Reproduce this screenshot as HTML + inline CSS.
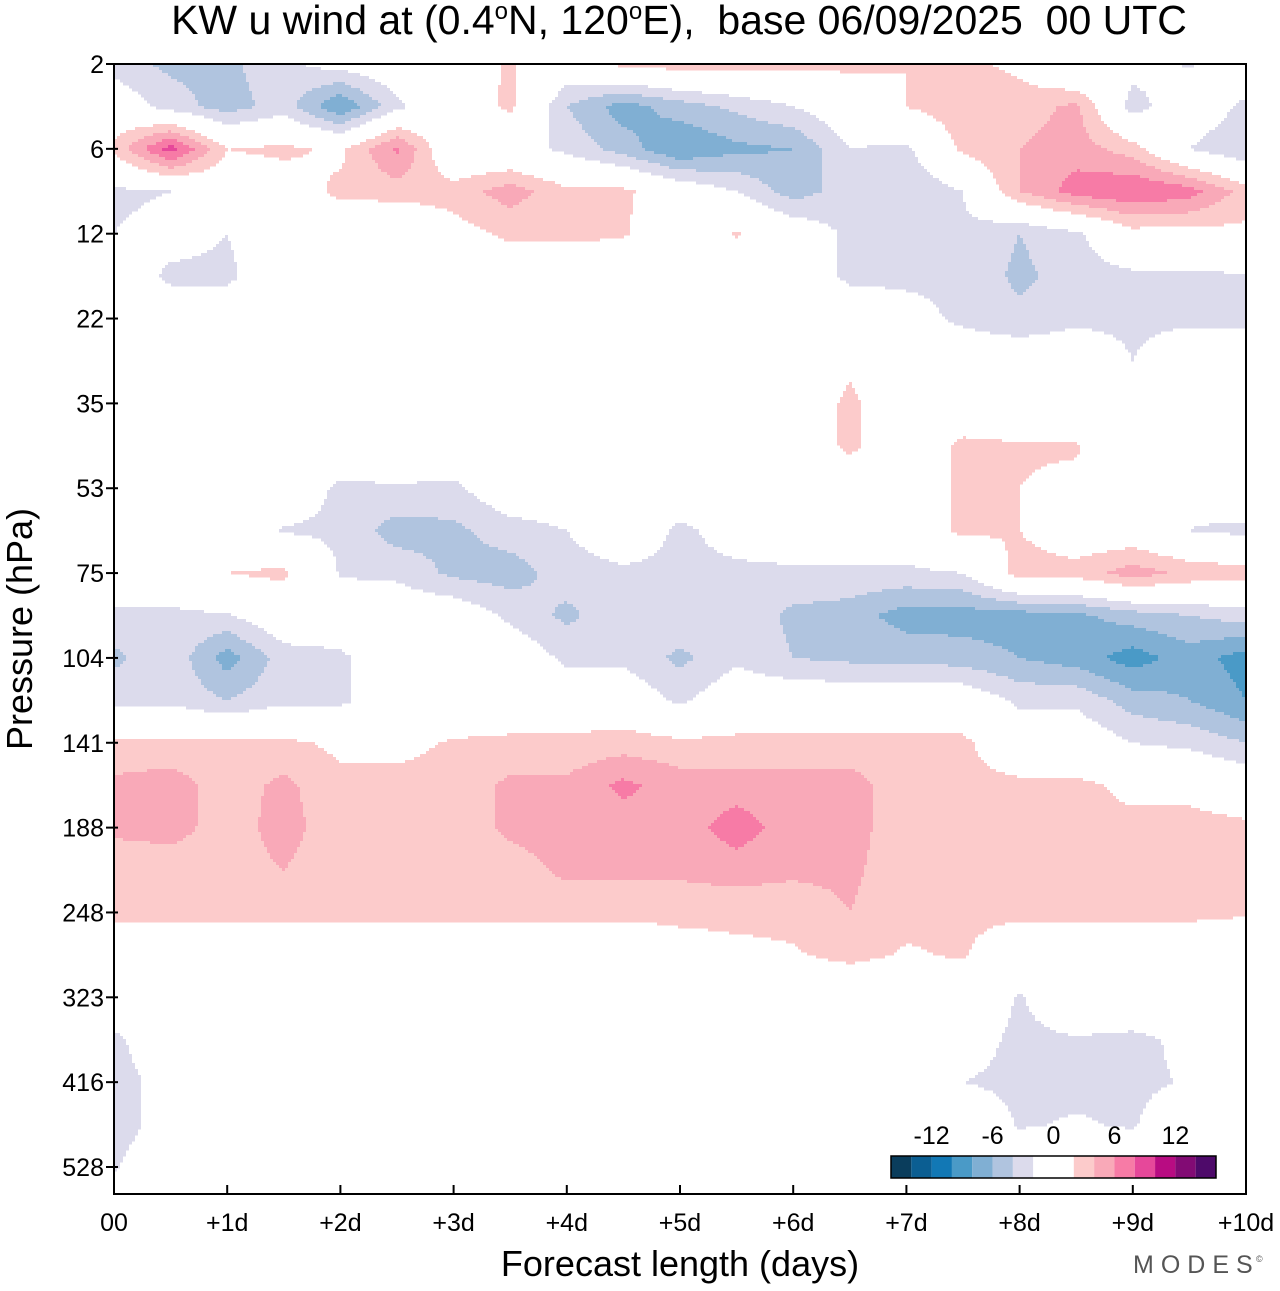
<!DOCTYPE html>
<html><head><meta charset="utf-8"><style>
html,body{margin:0;padding:0;background:#fff;}
body{width:1280px;height:1286px;overflow:hidden;font-family:"Liberation Sans",Arial,sans-serif;}
svg text{font-family:"Liberation Sans",Arial,sans-serif;white-space:pre;}
</style></head><body>
<svg id="chart" width="1280" height="1286" viewBox="0 0 1280 1286" xmlns="http://www.w3.org/2000/svg">
<text x="679" y="34" font-size="41" text-anchor="middle" xml:space="preserve">KW u wind at (0.4<tspan font-size="24" dy="-15">o</tspan><tspan dy="15">N, 120</tspan><tspan font-size="24" dy="-15">o</tspan><tspan dy="15">E),  base 06/09/2025  00 UTC</tspan></text>
<g id="field"></g>
<rect x="114" y="64" width="1132" height="1130" fill="none" stroke="#000" stroke-width="2"/>
<g id="axes"></g>
<g id="cbar"></g>
<text x="680" y="1276" font-size="36" text-anchor="middle">Forecast length (days)</text>
<text transform="translate(32,629) rotate(-90)" font-size="36" text-anchor="middle">Pressure (hPa)</text>
<text x="1133" y="1273" font-size="25" fill="#555" letter-spacing="7">MODES</text>
<text x="1256" y="1262" font-size="9" fill="#555">©</text>
</svg>
<script>
const dayLabels=["00","+1d","+2d","+3d","+4d","+5d","+6d","+7d","+8d","+9d","+10d"];
const levelLabels=["2","6","12","22","35","53","75","104","141","188","248","323","416","528"];
const binEdges=[-14,-12,-10,-8,-6,-4,-2,2,4,6,8,10,12,14];
const binColors=["#0a3d5c","#0b5e92","#1278b5","#4a9ac7","#80afd3","#b0c4df","#dcdbec","#ffffff","#fccbcb","#f9a9b8","#f77ba6","#e6489a","#b80c82","#820b74","#4e0a6a"];
const cbarLabels=["-12","-6","0","6","12"];
const cbarValues=[-12,-6,0,6,12];
// u wind (m/s) on grid: columns every 0.5 day (0..10), rows every half pressure-level step
const uRows=[
[-3,-4.5,-4.5,-2.5,-1,0,1,2.2,0,2.5,3,3,2.5,2.5,2,2.5,1.5,-2,-1,-2.2,0],
[0,-3,-5,-3,-8,-2.5,0,2.5,-4,-7,-5,-3.5,-2,0,2,3.5,3,4.5,-3,0,-2.5],
[2.5,9,2,2.5,1.5,6.5,-1,-1,-2.5,-5,-8,-6.5,-6,-2,-2.5,2.5,4,5,3,-2,-4],
[-2.5,-2,0,0.5,2.5,3,3,5,2.5,2.5,0,-2,-5,-3,-4,-2,4,7,8,7,3],
[-2,-1,-2,0,0,-1.5,1,2.5,2.5,2.2,0,2.2,0,-2.5,-3,-2.5,-4,-2.5,1,1,1.5],
[0,-2.5,-2.5,0,0,0,0,0,0,0,0,0,0,-2.5,-2.5,-2.5,-4.5,-3,-2.5,-2.5,-2.2],
[0,0,0,0,0,0,0,0,0,0,0,0,0,0,-1,-2.5,-3.5,-2.5,-2.5,-2.5,-2.5],
[0,0,0,0,0,0,0,0,0,0,0,0,0,1.5,0,0,0,0,-2,0,0],
[0,0,0,0,0,0,0,0,0,1.8,0,0,0,2.5,0,0,0,0,0,0,0],
[0,0,0,0,0,0,0,0,0,0,0,0,0,2.5,0,2.5,2.2,2.2,0,0,0],
[0,0,0,0,-2.5,-2.2,-2.5,0,0,0,0,0,0,0,0,2.5,2,1.5,0,-1.5,0],
[0,0,0,-2.2,-2.5,-5,-4.5,-3,-2,0,-2.5,-1,0,0,0,2.5,2,0,0,-2,-2.5],
[0,0,2,2.5,-2.2,-2.5,-4.5,-5,-3,-2.5,-2.5,-2.5,-2.5,-2.5,-2.5,-2,3,3,5,3.5,3],
[-2.5,-2.5,-2.2,0,0,0,0,-2.5,-4.5,-2.5,-2.5,-2.5,-4.5,-5,-7,-7,-7,-6.5,-5,-4,-3],
[-4.5,-2.5,-7,-3,-2.5,0,0,0,-2.5,-2.5,-4.5,-2.5,-4,-4.5,-4.5,-5,-6,-7,-9,-7,-9],
[-2.5,-2.5,-4,-2.5,-2.5,0,0,0,0,0,-2.5,0,0,0,0,0,-2.5,-2.5,-5,-6,-8],
[2.5,2.5,2.5,2.5,1.5,1.5,2.2,2.5,2.5,3,2.5,2.5,2.5,2.5,2.5,2.5,0,0,-2,-2.5,-4],
[4.5,5,3,4.5,2.5,2.5,2.5,4.5,4.5,6.5,5,5,5,5,2.5,2.5,2.5,2.5,1.5,1,0],
[4.5,5,2.8,5,2.5,3,2.5,4.5,5,5,5,7,5,5,2.5,2.5,2.2,2.5,2.5,3,2.5],
[2.5,2.5,3,4,2.5,2.5,2.5,3,4.5,4.5,4.5,5,4.5,4.5,2.5,2.5,2.5,2.5,2.5,3,2.5],
[2.5,2.5,2.5,2.5,2.5,2.5,2.5,2.5,2.5,2.5,2.5,2.5,2.5,4,2.5,2.5,2.5,2.5,2.5,2.5,2.2],
[0,0,0,0,0,0,0,0,0,0,1,1.5,1.8,2.5,1.8,2.2,0,0,0,0,0],
[0,0,0,0,0,0,0,0,0,0,0,0,0,0,0,0,-2.2,0,0,0,0],
[-2.5,0,0,0,0,0,0,0,0,0,0,0,0,0,0,-1,-2.5,-2.2,-2.5,-1.5,0],
[-3,-1,0,0,0,0,0,0,0,0,0,0,0,0,0,-2,-2.5,-2.5,-2.5,-1.8,0],
[-3,-1,0,0,0,0,0,0,0,0,0,0,0,0,0,0,-2.2,-1.8,-2.2,0,0],
[-2.2,0,0,0,0,0,0,0,0,0,0,0,0,0,0,0,0,0,0,0,0],
[0,0,0,0,0,0,0,0,0,0,0,0,0,0,0,0,0,0,0,0,0]
];
const NS="http://www.w3.org/2000/svg";
const X0=114,X1=1246,Y0=64,Y1=1194;
const nCols=uRows[0].length, dayStep=10/(nCols-1);
const xScale=d=>X0+(d/10)*(X1-X0);
const levelStep=(1167-64)/13;
const yScale=li=>Y0+li*levelStep;
function colorFor(v){let i=0;while(i<binEdges.length&&v>=binEdges[i])i++;return binColors[i];}
function sample(px,py){
  let fx=((px-X0)/(X1-X0))*10/dayStep, fy=(py-Y0)/levelStep/0.5;
  fx=Math.max(0,Math.min(nCols-1.0001,fx)); fy=Math.max(0,Math.min(uRows.length-1.0001,fy));
  const j=Math.floor(fx),i=Math.floor(fy),tx=fx-j,ty=fy-i;
  const a=uRows[i][j],b=uRows[i][j+1],c=uRows[i+1][j],d=uRows[i+1][j+1];
  return a*(1-tx)*(1-ty)+b*tx*(1-ty)+c*(1-tx)*ty+d*tx*ty;
}
const field=document.getElementById('field');
const S=3;
for(let y=Y0;y<Y1;y+=S){
  let runStart=X0,runCol=null;
  const flush=(xe)=>{
    if(runCol&&runCol!=="#ffffff"){
      const r=document.createElementNS(NS,'rect');
      
      
      r.setAttribute('x',runStart);r.setAttribute('y',y);
      r.setAttribute('width',xe-runStart);r.setAttribute('height',Math.min(S,Y1-y)+0.5);
      r.setAttribute('fill',runCol);field.appendChild(r);
    }
  };
  for(let x=X0;x<X1;x+=S){
    const c=colorFor(sample(x+S/2,y+S/2));
    if(c!==runCol){flush(x);runStart=x;runCol=c;}
  }
  flush(X1);
}
const axes=document.getElementById('axes');
function line(x1,y1,x2,y2,name){const l=document.createElementNS(NS,'line');
  
  
  l.setAttribute('x1',x1);l.setAttribute('y1',y1);l.setAttribute('x2',x2);l.setAttribute('y2',y2);
  l.setAttribute('stroke','#000');l.setAttribute('stroke-width','2');axes.appendChild(l);}
function text(x,y,s,anchor,size,name,parent){const t=document.createElementNS(NS,'text');
  
  
  t.setAttribute('x',x);t.setAttribute('y',y);t.setAttribute('text-anchor',anchor);t.setAttribute('font-size',size);
  t.textContent=s;(parent||axes).appendChild(t);}
levelLabels.forEach((s,i)=>{const y=yScale(i);line(X0-8,y,X0+4,y,'y-tick');text(X0-10,y+9,s,'end',25,'y-tick-label');});
dayLabels.forEach((s,i)=>{const x=xScale(i);line(x,Y1,x,Y1-9,'x-tick');text(x,Y1+37,s,'middle',25,'x-tick-label');});
const cb=document.getElementById('cbar');
const cbX=891,cbY=1156,cbW=325,cbH=22,bw=cbW/16;
const cbVal=v=>cbX+cbW/2+v*(bw/2);
binColors.forEach((c,i)=>{const r=document.createElementNS(NS,'rect');
  
  
  const lo=i===0?-16:binEdges[i-1],hi=i===binColors.length-1?16:binEdges[i];
  r.setAttribute('x',cbVal(lo));r.setAttribute('y',cbY);r.setAttribute('width',cbVal(hi)-cbVal(lo));r.setAttribute('height',cbH);
  r.setAttribute('fill',c);cb.appendChild(r);});
const fr=document.createElementNS(NS,'rect');


fr.setAttribute('x',cbX);fr.setAttribute('y',cbY);fr.setAttribute('width',cbW);fr.setAttribute('height',cbH);
fr.setAttribute('fill','none');fr.setAttribute('stroke','#000');fr.setAttribute('stroke-width','1.5');cb.appendChild(fr);
cbarLabels.forEach((s,i)=>text(cbVal(cbarValues[i]),1144,s,'middle',25,'colorbar-label',cb));
</script>
</body></html>
